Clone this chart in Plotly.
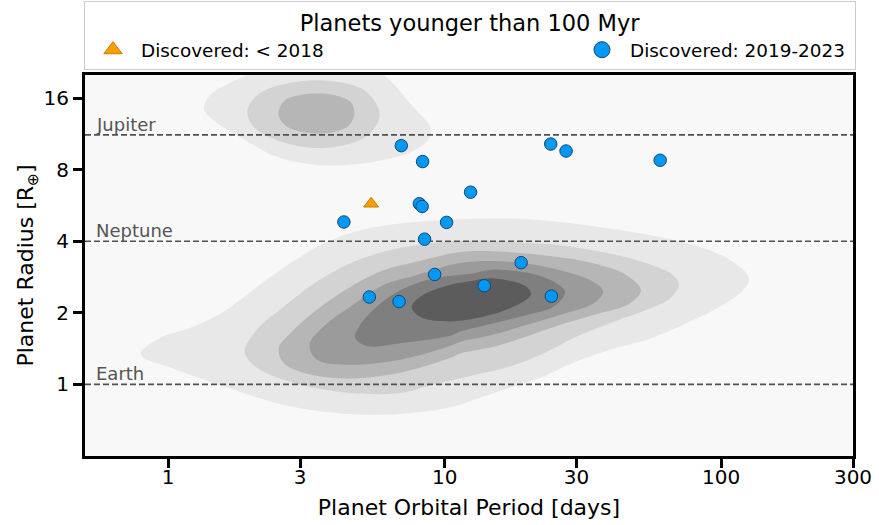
import math
import plotly.graph_objects as go

FONT = "DejaVu Sans"

# Planets younger than 100 Myr: orbital period [days] and radius [R_earth]
old_period = [5.42]
old_radius = [5.75]

new_period = [6.97, 8.32, 12.41, 8.10, 8.29, 4.32, 10.16, 8.46, 9.20,
              5.34, 6.84, 13.90, 24.20, 27.49, 60.19, 18.91, 24.32]
new_radius = [10.09, 8.65, 6.43, 5.75, 5.60, 4.82, 4.80, 4.08, 2.90,
              2.33, 2.23, 2.60, 10.25, 9.58, 8.76, 3.25, 2.35]

# Reference planet radii
ref_names = ["Jupiter", "Neptune", "Earth"]
ref_radius = [11.2, 4.0, 1.0]

x_range = [0.5, 300]
y_range = [0.5, 20]
x_ticks = [1, 3, 10, 30, 100, 300]
y_ticks = [1, 2, 4, 8, 16]

# Density contours of the known planet population, outer level first.
# Each outline is a closed list of (period, radius) vertices.
main_levels = [
    [(0.795, 1.36), (0.938, 1.57), (1.237, 1.75), (1.588, 2.02), (2.094, 2.57),
     (2.764, 3.23), (3.646, 3.91), (4.947, 4.45), (6.898, 4.75), (10.45, 4.93),
     (17.26, 4.98), (26.15, 4.82), (39.62, 4.52), (60.03, 4.17), (83.72, 3.79),
     (110.4, 3.28), (126.2, 2.79), (120.0, 2.49), (98.85, 2.12), (74.96, 1.81),
     (53.75, 1.54), (39.62, 1.40), (30.04, 1.25), (22.76, 1.08), (17.26, 0.97),
     (13.08, 0.87), (10.45, 0.80), (6.004, 0.745), (3.962, 0.76), (2.615, 0.82),
     (1.725, 0.95), (1.308, 1.06), (0.991, 1.19), (0.817, 1.29)],
    [(1.890, 1.40), (2.094, 1.70), (2.615, 2.12), (3.448, 2.70), (4.551, 3.23),
     (6.004, 3.61), (7.917, 3.85), (11.39, 4.01), (17.26, 3.97), (26.15, 3.85),
     (39.62, 3.55), (53.75, 3.23), (67.05, 2.88), (70.31, 2.62), (65.24, 2.30),
     (53.75, 2.06), (39.62, 1.81), (30.04, 1.59), (22.76, 1.35), (17.26, 1.19),
     (13.08, 1.10), (8.87, 0.99), (6.898, 0.92), (4.551, 0.92), (3.004, 1.00),
     (2.154, 1.15), (1.927, 1.29)],
    [(2.508, 1.42), (2.764, 1.64), (3.448, 2.06), (4.551, 2.57), (6.004, 3.02),
     (7.917, 3.28), (11.39, 3.60), (15.02, 3.63), (22.76, 3.49), (34.48, 3.23),
     (45.51, 2.88), (51.26, 2.49), (46.78, 2.19), (36.46, 1.99), (26.15, 1.78),
     (19.83, 1.59), (15.02, 1.44), (11.39, 1.35), (10.45, 1.29), (6.898, 1.12),
     (4.551, 1.06), (3.264, 1.10), (2.615, 1.23)],
    [(3.245, 1.47), (3.646, 1.75), (4.551, 2.12), (6.004, 2.62), (7.917, 2.88),
     (11.39, 3.24), (17.26, 3.28), (26.15, 3.02), (34.48, 2.70), (37.48, 2.45),
     (34.48, 2.19), (26.15, 1.96), (19.83, 1.78), (15.02, 1.62), (11.39, 1.51),
     (10.45, 1.45), (6.898, 1.27), (4.551, 1.21), (3.448, 1.27)],
    [(4.745, 1.57), (4.947, 1.78), (5.679, 2.12), (6.898, 2.49), (9.097, 2.79),
     (12.69, 2.93), (15.02, 3.04), (22.76, 2.83), (27.26, 2.45), (24.74, 2.12),
     (19.83, 1.96), (15.02, 1.81), (11.39, 1.67), (10.45, 1.60), (6.898, 1.49),
     (5.226, 1.45)],
    [(7.60, 2.12), (8.37, 2.38), (10.45, 2.62), (12.69, 2.73), (15.02, 2.79),
     (19.83, 2.57), (20.49, 2.38), (17.26, 2.09), (13.08, 1.90), (10.45, 1.84),
     (8.17, 1.92)],
]

giant_levels = [
    [(1.348, 14.37), (1.425, 16.60), (1.683, 18.57), (2.043, 20.39), (3.012, 21.19),
     (4.563, 21.19), (5.856, 20.39), (7.723, 14.59), (8.873, 12.03), (8.750, 10.76),
     (7.723, 9.61), (5.856, 8.73), (4.201, 8.32), (3.184, 8.46), (2.412, 9.16),
     (1.829, 10.93), (1.465, 12.84)],
    [(1.933, 14.14), (2.124, 16.65), (2.771, 18.57), (3.865, 18.88), (5.168, 17.14),
     (5.823, 13.69), (5.388, 11.43), (4.690, 10.41), (3.364, 9.87), (2.412, 10.76),
     (2.021, 12.24)],
    [(2.502, 13.77), (2.658, 15.72), (3.012, 16.49), (3.440, 16.70), (4.029, 16.41),
     (4.563, 15.42), (4.717, 13.77), (4.488, 12.24), (3.930, 11.49), (3.440, 11.36),
     (2.962, 11.60), (2.636, 12.35)],
]

level_colors = ["#e8e8e8", "#d3d3d3", "#b6b6b6", "#9b9b9b", "#7f7f7f", "#5c5c5c"]

blue = "#0098f5"
blue_edge = "#17466f"
orange = "#f7a000"
orange_edge = "#c97c00"

fig = go.Figure()


def add_level(outline, color):
    xs = [p for p, _ in outline] + [outline[0][0]]
    ys = [r for _, r in outline] + [outline[0][1]]
    fig.add_trace(go.Scatter(
        x=xs, y=ys, mode="lines", fill="toself", fillcolor=color,
        line=dict(width=0, shape="spline", smoothing=1.0),
        hoverinfo="skip", showlegend=False))


for outline, color in zip(main_levels, level_colors):
    add_level(outline, color)
for outline, color in zip(giant_levels, level_colors):
    add_level(outline, color)

# Dashed reference radii with their names
for name, r in zip(ref_names, ref_radius):
    fig.add_trace(go.Scatter(
        x=x_range, y=[r, r], mode="lines",
        line=dict(color="#505050", width=1.6, dash="6px,3px"),
        hoverinfo="skip", showlegend=False))
    fig.add_annotation(
        x=0.012, xref="paper", xanchor="left",
        y=math.log10(r), yref="y", yanchor="bottom", yshift=-2,
        text=name, showarrow=False,
        font=dict(family=FONT, size=18, color="#555555"))

# Planets
fig.add_trace(go.Scatter(
    x=new_period, y=new_radius, mode="markers",
    marker=dict(symbol="circle", size=12.5, color=blue,
                line=dict(color=blue_edge, width=1)),
    showlegend=False))
fig.add_trace(go.Scatter(
    x=old_period, y=old_radius, mode="markers",
    marker=dict(symbol="triangle-up", size=13, color=orange,
                line=dict(color=orange_edge, width=1)),
    showlegend=False))

# Legend entries
fig.add_trace(go.Scatter(
    x=[None], y=[None], mode="markers", name="Discovered: < 2018",
    marker=dict(symbol="triangle-up", size=16, color=orange,
                line=dict(color=orange_edge, width=1)),
    legendwidth=428))
fig.add_trace(go.Scatter(
    x=[None], y=[None], mode="markers", name="Discovered: 2019-2023",
    marker=dict(symbol="circle", size=16, color=blue,
                line=dict(color=blue_edge, width=1)),
    legendwidth=220))

axis_common = dict(
    type="log", showline=True, mirror=True, linecolor="black", linewidth=3,
    ticks="outside", ticklen=9, tickwidth=2.5, tickcolor="black",
    showgrid=False, zeroline=False, automargin=False,
    tickfont=dict(family=FONT, size=20, color="black"),
)

fig.update_xaxes(
    range=[math.log10(v) for v in x_range],
    tickvals=x_ticks, ticktext=[str(v) for v in x_ticks],
    ticklabelstandoff=-8,
    title=dict(text="Planet Orbital Period [days]",
               font=dict(family=FONT, size=22, color="black"), standoff=12),
    **axis_common)
fig.update_yaxes(
    range=[math.log10(v) for v in y_range],
    tickvals=y_ticks, ticktext=[str(v) for v in y_ticks],
    title=dict(text="Planet Radius [R<sub>⊕</sub>]",
               font=dict(family=FONT, size=22, color="black"), standoff=4),
    **axis_common)

fig.update_layout(
    width=879, height=525,
    margin=dict(l=85, r=26, t=75, b=69),
    paper_bgcolor="white", plot_bgcolor="#f8f8f8",
    font=dict(family=FONT, color="black"),
    showlegend=True,
    legend=dict(
        orientation="h",
        xref="container", x=84 / 879, xanchor="left",
        yref="container", y=1 - 1 / 525, yanchor="top",
        bgcolor="white", bordercolor="#cccccc", borderwidth=1,
        itemwidth=46,
        font=dict(family=FONT, size=18.4, color="black"),
        title=dict(text="Planets younger than 100 Myr", side="top center",
                   font=dict(family=FONT, size=22.5, color="black")),
    ),
)

fig.write_html("out.html")
